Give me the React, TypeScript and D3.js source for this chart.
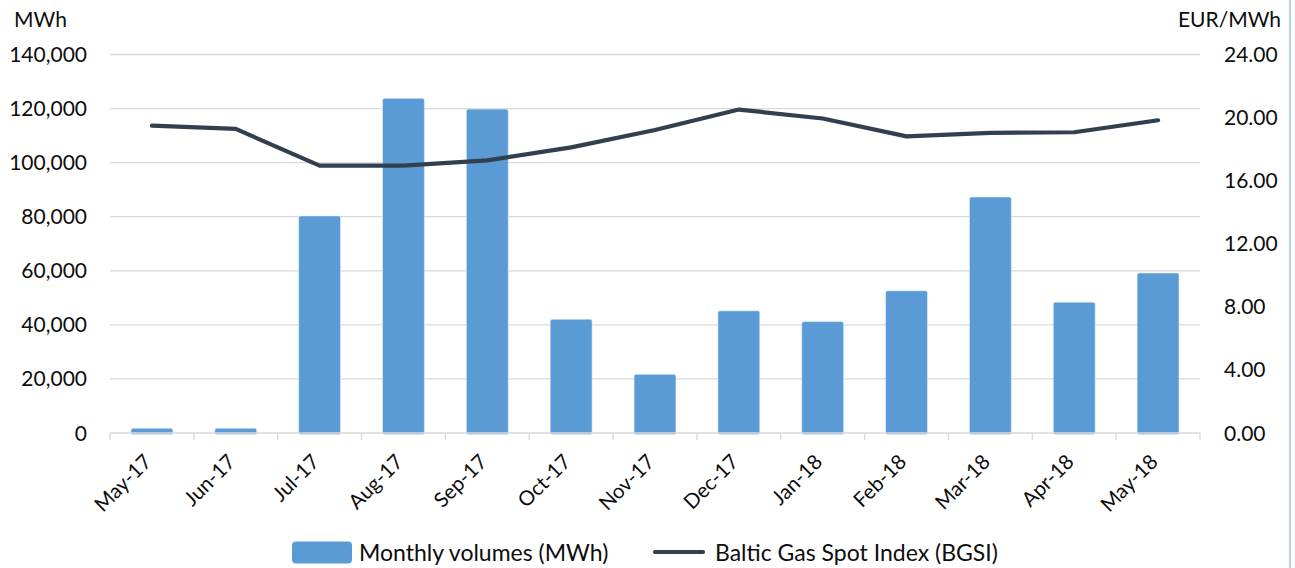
import { useEffect, useRef } from 'react';
import * as d3 from 'd3';

const months = [
  'May-17', 'Jun-17', 'Jul-17', 'Aug-17', 'Sep-17', 'Oct-17', 'Nov-17',
  'Dec-17', 'Jan-18', 'Feb-18', 'Mar-18', 'Apr-18', 'May-18',
];
const volumes = [
  1750, 1750, 80300, 123800, 119800, 42100, 21700,
  45200, 41200, 52600, 87300, 48400, 59200,
];
const bgsi = [
  19.49, 19.28, 16.95, 16.95, 17.29, 18.11, 19.21,
  20.51, 19.94, 18.81, 19.03, 19.07, 19.83,
];
const leftTicks = [0, 20000, 40000, 60000, 80000, 100000, 120000, 140000];
const rightTicks = [0, 4, 8, 12, 16, 20, 24];

const W = 1295;
const H = 568;
const FONT = 'Lato, "Open Sans", sans-serif';
const BAR = '#5b9bd5';
const LINE = '#323f4f';
const GRID = '#d9d9d9';

export default function App() {
  const svgRef = useRef<SVGSVGElement>(null);

  useEffect(() => {
    if (!svgRef.current) return;
    const svg = d3.select(svgRef.current);
    svg.selectAll('*').remove();

    const margin = { top: 54.5, bottom: 433, left: 110, right: 1200 };

    const x = d3
      .scaleBand<string>()
      .domain(months)
      .range([margin.left, margin.right])
      .paddingInner(0.5)
      .paddingOuter(0.25);
    const step = x.step();

    const yL = d3.scaleLinear().domain([0, 140000]).range([margin.bottom, margin.top]);
    const yR = d3.scaleLinear().domain([0, 24]).range([margin.bottom, margin.top]);

    // gridlines
    svg
      .append('g')
      .selectAll('line')
      .data(leftTicks.slice(1))
      .join('line')
      .attr('x1', margin.left)
      .attr('x2', margin.right)
      .attr('y1', (d) => yL(d))
      .attr('y2', (d) => yL(d))
      .attr('stroke', GRID)
      .attr('stroke-width', 1.3);

    // bars
    svg
      .append('g')
      .selectAll('rect')
      .data(months)
      .join('rect')
      .attr('x', (d) => x(d)!)
      .attr('width', x.bandwidth())
      .attr('y', (_, i) => yL(volumes[i]))
      .attr('height', (_, i) => yL(0) - yL(volumes[i]) + 1.5)
      .attr('rx', 2)
      .attr('fill', BAR)
      .attr('stroke', '#e8f1fa')
      .attr('stroke-width', 0.6);

    // x axis line + ticks
    svg
      .append('line')
      .attr('x1', margin.left)
      .attr('x2', margin.right)
      .attr('y1', yL(0))
      .attr('y2', yL(0))
      .attr('stroke', GRID)
      .attr('stroke-width', 1.3);

    svg
      .append('g')
      .selectAll('line')
      .data(d3.range(months.length + 1))
      .join('line')
      .attr('x1', (i) => margin.left + i * step)
      .attr('x2', (i) => margin.left + i * step)
      .attr('y1', yL(0))
      .attr('y2', yL(0) + 7)
      .attr('stroke', GRID)
      .attr('stroke-width', 1.3);

    // line series
    const line = d3
      .line<number>()
      .x((_, i) => x(months[i])! + x.bandwidth() / 2)
      .y((d) => yR(d));

    svg
      .append('path')
      .datum(bgsi)
      .attr('fill', 'none')
      .attr('stroke', LINE)
      .attr('stroke-width', 4.2)
      .attr('stroke-linecap', 'round')
      .attr('stroke-linejoin', 'round')
      .attr('d', line);

    const text = svg
      .append('g')
      .attr('font-family', FONT)
      .attr('fill', '#0d0d0d');

    // left axis labels
    text
      .append('g')
      .selectAll('text')
      .data(leftTicks)
      .join('text')
      .attr('x', 87)
      .attr('y', (d) => yL(d))
      .attr('dy', '0.36em')
      .attr('text-anchor', 'end')
      .attr('font-size', 21)
      .text((d) => d3.format(',')(d));

    // right axis labels
    text
      .append('g')
      .selectAll('text')
      .data(rightTicks)
      .join('text')
      .attr('x', 1224)
      .attr('y', (d) => yR(d))
      .attr('dy', '0.36em')
      .attr('text-anchor', 'start')
      .attr('font-size', 21)
      .text((d) => d.toFixed(2));

    text
      .append('text')
      .attr('x', 14)
      .attr('y', 27)
      .attr('font-size', 21)
      .text('MWh');

    text
      .append('text')
      .attr('x', 1281)
      .attr('y', 27)
      .attr('text-anchor', 'end')
      .attr('font-size', 21)
      .text('EUR/MWh');

    // x labels
    text
      .append('g')
      .selectAll('text')
      .data(months)
      .join('text')
      .attr('text-anchor', 'end')
      .attr('font-size', 20.5)
      .attr('transform', (d) => `translate(${x(d)! + x.bandwidth() / 2 + 1},${yL(0) + 30}) rotate(-45)`)
      .text((d) => d);

    // legend
    const lg = svg.append('g').attr('font-family', FONT).attr('font-size', 23).attr('fill', '#0d0d0d');
    lg.append('rect')
      .attr('x', 292)
      .attr('y', 541.5)
      .attr('width', 60)
      .attr('height', 22)
      .attr('rx', 4)
      .attr('fill', BAR);
    lg.append('text').attr('x', 359).attr('y', 552.5).attr('dy', '0.36em').text('Monthly volumes (MWh)');
    lg.append('line')
      .attr('x1', 655)
      .attr('x2', 703)
      .attr('y1', 552)
      .attr('y2', 552)
      .attr('stroke', LINE)
      .attr('stroke-width', 4.2)
      .attr('stroke-linecap', 'round');
    lg.append('text').attr('x', 715).attr('y', 552.5).attr('dy', '0.36em').text('Baltic Gas Spot Index (BGSI)');

    // right border
    svg
      .append('line')
      .attr('x1', 1290)
      .attr('x2', 1290)
      .attr('y1', 0)
      .attr('y2', H)
      .attr('stroke', '#7fb0de')
      .attr('stroke-width', 1.2);
  }, []);

  return (
    <svg
      ref={svgRef}
      width={W}
      height={H}
      style={{ position: 'absolute', left: 0, top: 0, background: '#fff' }}
    />
  );
}
